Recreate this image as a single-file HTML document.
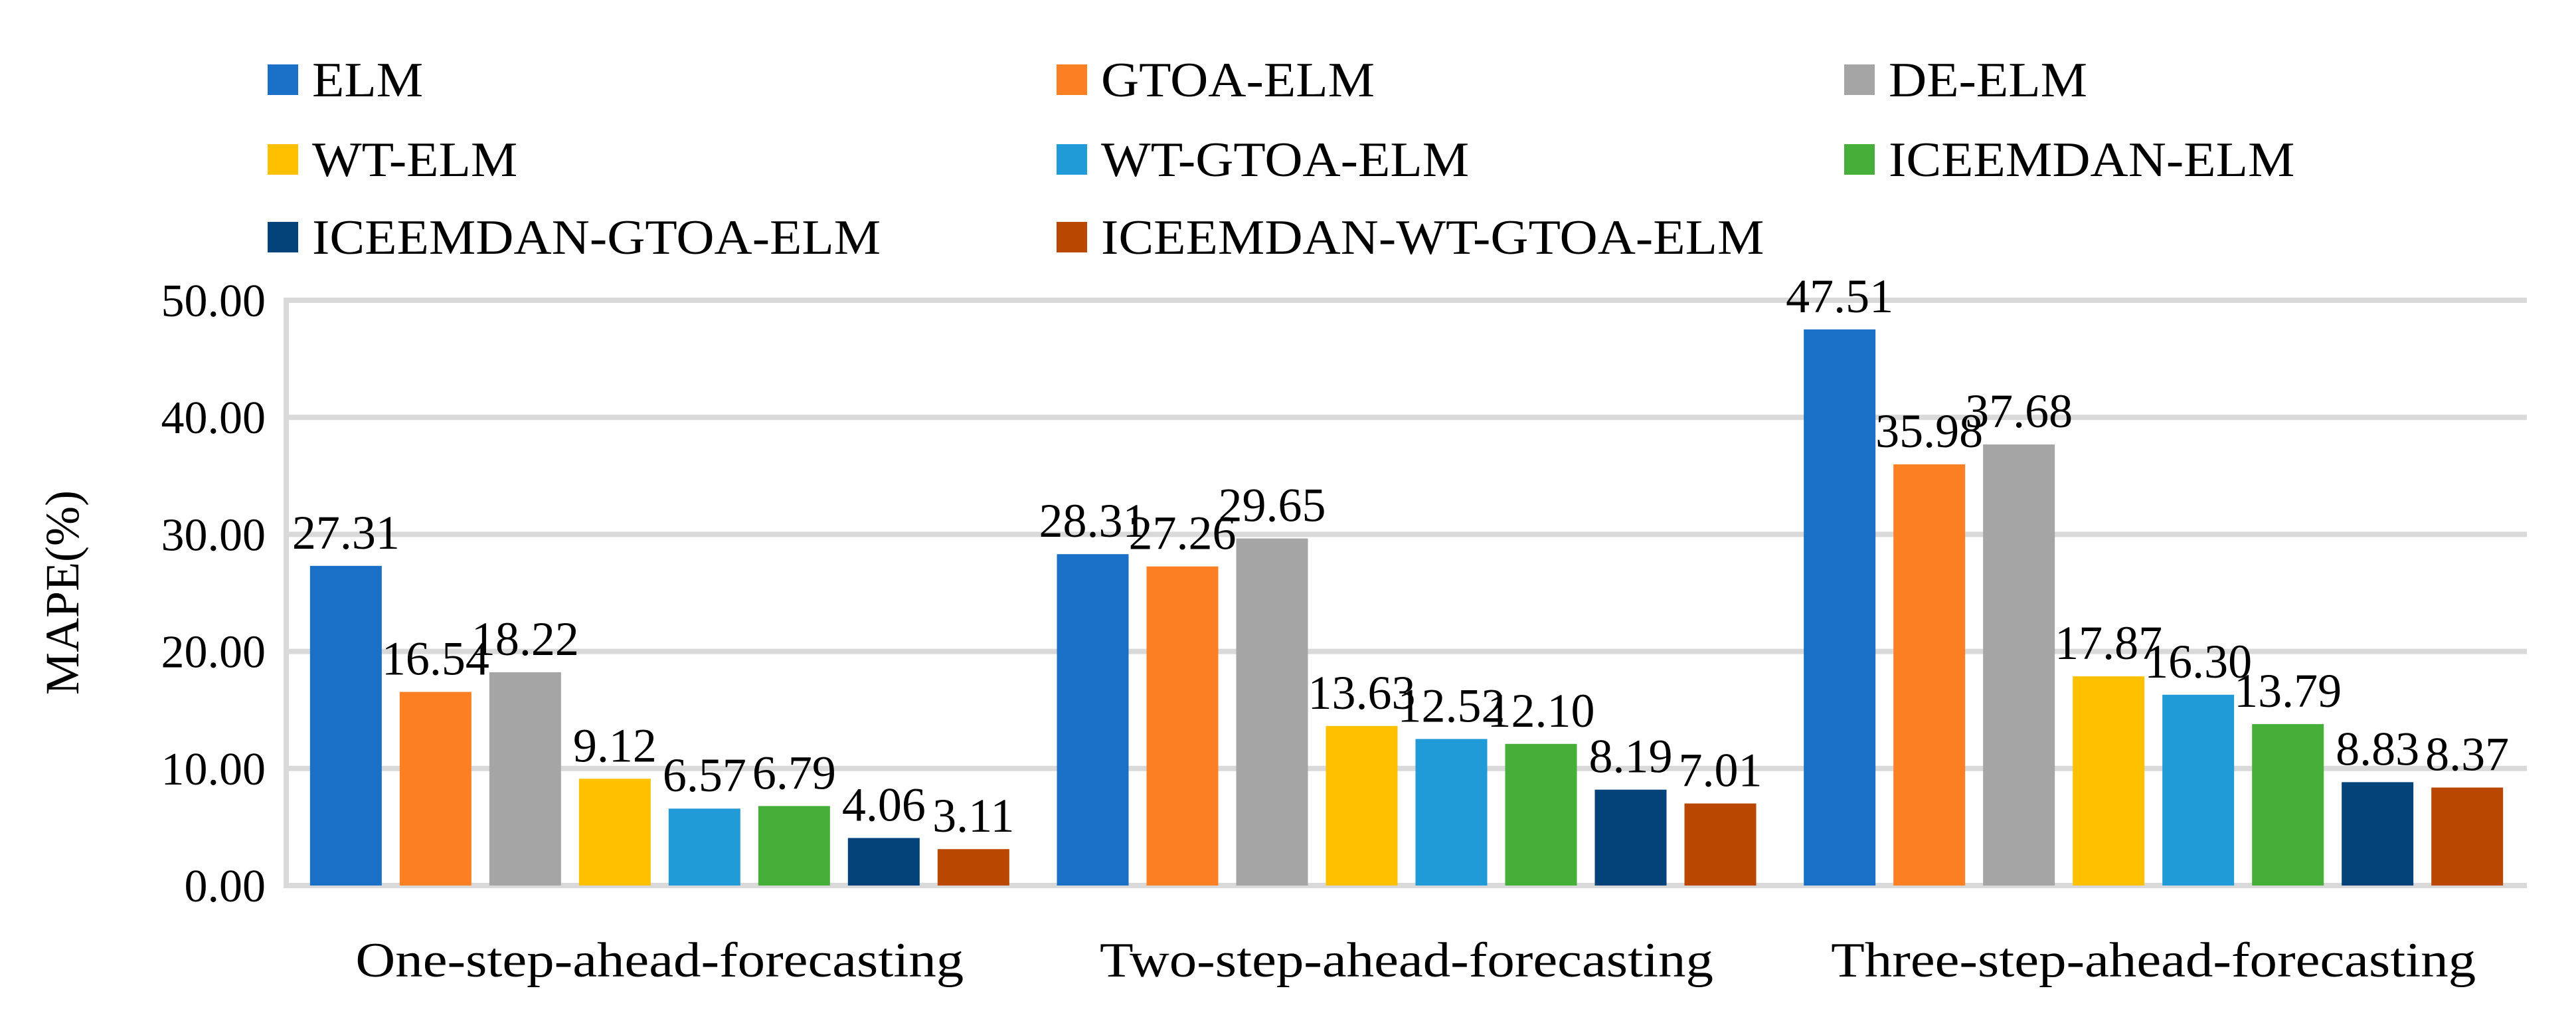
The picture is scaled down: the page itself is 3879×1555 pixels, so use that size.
<!DOCTYPE html>
<html><head><meta charset="utf-8"><style>
html,body{margin:0;padding:0;background:#fff;}
svg{display:block;font-family:"Liberation Serif",serif;}
</style></head><body>
<svg id="chart" width="3879" height="1555" viewBox="0 0 3879 1555" xmlns="http://www.w3.org/2000/svg">
<g id="grid"></g>
<g id="bars"></g>
<g id="labels"></g>
<g id="yticks"></g>
<g id="xticks"></g>
<g id="legend"></g>
<text x="0" y="0" transform="translate(118,892) rotate(-90)" text-anchor="middle" font-size="72" fill="#000">MAPE(%)</text>
</svg>
<script>
const categories = ["One-step-ahead-forecasting","Two-step-ahead-forecasting","Three-step-ahead-forecasting"];
const seriesNames = ["ELM","GTOA-ELM","DE-ELM","WT-ELM","WT-GTOA-ELM","ICEEMDAN-ELM","ICEEMDAN-GTOA-ELM","ICEEMDAN-WT-GTOA-ELM"];
const seriesColors = ["#1a70c6","#fd7f23","#a5a5a5","#ffc000","#219bd8","#45af3a","#04427a","#b94701"];
const valsELM = [27.31, 28.31, 47.51];
const valsGTOA = [16.54, 27.26, 35.98];
const valsDE = [18.22, 29.65, 37.68];
const valsWT = [9.12, 13.63, 17.87];
const valsWTGTOA = [6.57, 12.52, 16.30];
const valsICE = [6.79, 12.10, 13.79];
const valsICEGTOA = [4.06, 8.19, 8.83];
const valsICEWTGTOA = [3.11, 7.01, 8.37];
const yTicks = [0, 10, 20, 30, 40, 50];
const yTickLabels = ["0.00","10.00","20.00","30.00","40.00","50.00"];

const series = [valsELM,valsGTOA,valsDE,valsWT,valsWTGTOA,valsICE,valsICEGTOA,valsICEWTGTOA];
const NS = "http://www.w3.org/2000/svg";
const L = 431, R = 3805, T = 452, B = 1333, yMax = 50;
const y = v => B - (v / yMax) * (B - T);
const catW = (R - L) / categories.length;
const barW = 108, slot = 135;
const groupW = series.length * slot - (slot - barW);
const x = (c, s) => L + c * catW + (catW - groupW) / 2 + s * slot;
function mk(tag, attrs, parent){const e=document.createElementNS(NS,tag);for(const k in attrs)e.setAttribute(k,attrs[k]);parent.appendChild(e);return e;}
function widen(t, f){const w=t.getComputedTextLength();t.setAttribute('textLength',(w*f).toFixed(1));t.setAttribute('lengthAdjust','spacingAndGlyphs');}

const grid = document.getElementById('grid');
yTicks.forEach((t,i)=>{
  const ln = mk('line',{x1:L,x2:R,y1:y(t),y2:y(t),stroke:'#d9d9d9','stroke-width':8},grid);
  
  
  const tx = mk('text',{x:400,y:y(t)+24,'text-anchor':'end','font-size':70,fill:'#000'},document.getElementById('yticks'));
  tx.textContent = yTickLabels[i];
  
  
});
const axis = mk('line',{x1:L,x2:L,y1:T-4,y2:B+4,stroke:'#d9d9d9','stroke-width':8},grid);



const bars = document.getElementById('bars'), labels = document.getElementById('labels');
series.forEach((vals,s)=>{
  vals.forEach((v,c)=>{
    const r = mk('rect',{x:x(c,s),y:y(v),width:barW,height:B-y(v),fill:seriesColors[s]},bars);
    
    
    const t = mk('text',{x:x(c,s)+barW/2,y:y(v)-26,'text-anchor':'middle','font-size':72,fill:'#000'},labels);
    t.textContent = v.toFixed(2);
    
    
  });
});

const xt = document.getElementById('xticks');
categories.forEach((c,i)=>{
  const t = mk('text',{x:L+catW*(i+0.5),y:1470,'text-anchor':'middle','font-size':74,fill:'#000'},xt);
  t.textContent = c;
  
  
  widen(t, 1.12);
});

const lg = document.getElementById('legend');
const colX = [403, 1591, 2777], rowY = [120, 240, 357];
seriesNames.forEach((n,i)=>{
  const cx = colX[i%3], cy = rowY[Math.floor(i/3)];
  const g = mk('g',{},lg);
  
  
  mk('rect',{x:cx,y:cy-23,width:46,height:46,fill:seriesColors[i]},g);
  const t = mk('text',{x:cx+67,y:cy+25,'font-size':74,fill:'#000'},g);
  t.textContent = n;
  widen(t, 1.07);
});
</script>
</body></html>
